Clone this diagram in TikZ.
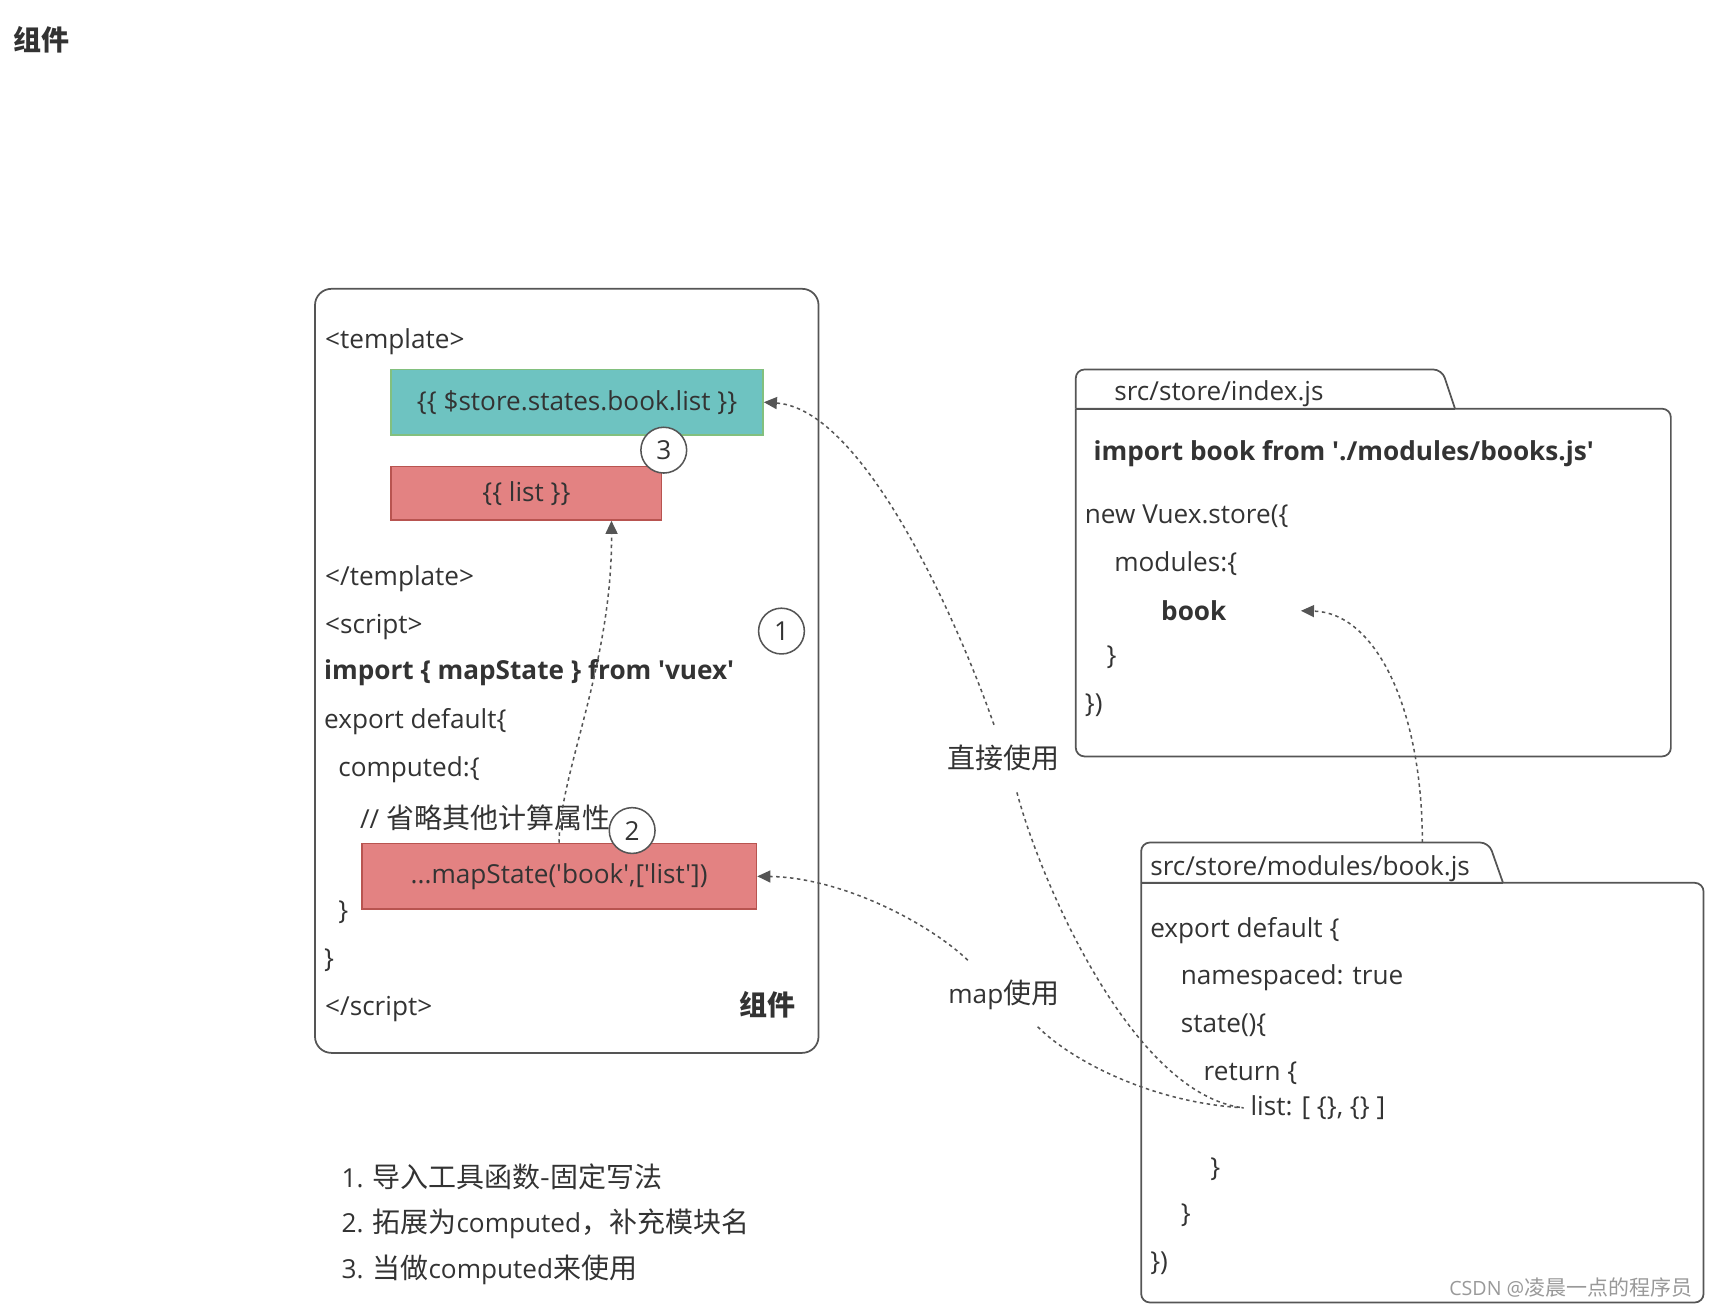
\documentclass[tikz,border=0pt]{standalone}
\usepackage{fontspec}
\setmainfont{Open Sans}[Ligatures=TeXOff]
\newfontfamily\cjk{Noto Sans CJK SC}[Ligatures=TeXOff,Scale=1.07]
\usetikzlibrary{arrows.meta,calc}
\definecolor{txt}{HTML}{333333}
\definecolor{edge}{HTML}{555555}
\definecolor{tealf}{HTML}{6EC3C1}
\definecolor{tealb}{HTML}{82C07E}
\definecolor{redf}{HTML}{E38282}
\definecolor{redb}{HTML}{B85450}
\newcommand\codesize{\fontsize{12}{14}\selectfont}
\tikzset{
  code/.style={anchor=west, inner sep=0pt, text=txt, font=\codesize, yshift=-1.2pt},
  frame/.style={draw=edge, line width=0.8pt},
  tealbox/.style={draw=tealb, fill=tealf, line width=0.8pt, inner sep=0pt, text=txt, font=\codesize},
  redbox/.style={draw=redb, fill=redf, line width=0.8pt, inner sep=0pt, text=txt, font=\codesize},
  circ/.style={circle, draw=edge, fill=white, line width=0.7pt, minimum size=21pt, inner sep=0pt, text=txt, font=\codesize},
  lbl/.style={inner sep=0pt, text=txt, font=\codesize},
  dline/.style={draw=edge, line width=0.7pt, dash pattern=on 1.6pt off 1.6pt},
  conn/.style={dline, -{Triangle[length=6pt,width=5.5pt]}, color=edge},
}
\begin{document}
\begin{tikzpicture}[x=0.5pt,y=-0.5pt]
\useasboundingbox (0,0) rectangle (1568,1200);

% title
\node[code, font=\codesize\cjk\bfseries] (title) at (12,34) {组件};

% component frame
\draw[frame, fill=white, rounded corners=7.5pt] (289,265) rectangle (751,966);

\node[code] (tpl) at (298,311) {<template>};
\node[tealbox, minimum width=170.5pt, minimum height=30pt] (teal) at (529.5,369) {\{\{ \$store.states.book.list \}\}};
\node[redbox, minimum width=124pt, minimum height=24.5pt] (lt) at (483,452.5) {\{\{ list \}\}};
\node[code] (tple) at (298,529) {</template>};
\node[code] (scr) at (298,573) {<script>};
\node[code, font=\codesize\bfseries] (imp) at (297,615) {import \{ mapState \} from 'vuex'};
\node[code] (exp) at (297,660) {export default\{};
\node[code] (cmp) at (310,704) {computed:\{};
\node[code] (cmt) at (330,748) {// {\cjk 省略其他计算属性}};
\node[redbox, minimum width=181pt, minimum height=30pt] (ms) at (513,804) {...mapState('book',['list'])};
\node[code] (cb1) at (310,835) {\}};
\node[code] (cb2) at (297,879) {\}};
\node[code] (scre) at (298,923) {</script>};
\node[code, anchor=east, font=\codesize\cjk\bfseries] (cname) at (730,919) {组件};

\node[circ] (c3) at (609,413) {3};
\node[circ] (c1) at (717,579) {1};
\node[circ] (c2) at (580,762) {2};

% index.js frame
\draw[frame, rounded corners=4pt] (987,375) -- (987,339) -- (1323,339) -- (1335,375);
\draw[frame] (987,375) -- (1335,375);
\draw[frame, rounded corners=4pt] (987,375) -- (1533,375) -- (1533,694) -- (987,694) -- (987,375);
\node[code] (ifile) at (1022,359) {src/store/index.js};
\node[code, font=\codesize\bfseries] (iimp) at (1003,414) {import book from './modules/books.js'};
\node[code] (inew) at (995,471) {new Vuex.store(\{};
\node[code] (imod) at (1022,515) {modules:\{};
\node[code, font=\codesize\bfseries] (bk) at (1065,558) {book};
\node[code] (ic1) at (1015,601) {\}};
\node[code] (ic2) at (995,645) {\})};

% book.js frame
\draw[frame, rounded corners=4pt] (1047,810) -- (1047,773) -- (1366,773) -- (1379,810);
\draw[frame] (1047,810) -- (1379,810);
\draw[frame, rounded corners=4pt] (1047,810) -- (1563,810) -- (1563,1195) -- (1047,1195) -- (1047,810);
\node[code] (bfile) at (1055,795) {src/store/modules/book.js};
\node[code] (bexp) at (1055,851) {export default \{};
\node[code] (bns) at (1083,895) {namespaced: true};
\node[code] (bst) at (1083,938) {state()\{};
\node[code] (bret) at (1104,982) {return \{};
\node[code] (lst) at (1147,1014) {list: [ \{\}, \{\} ]};
\node[code] (bc1) at (1110,1070) {\}};
\node[code] (bc2) at (1083,1113) {\}};
\node[code] (bc3) at (1055,1157) {\})};
\node[anchor=east, inner sep=0pt, text=black!40, font=\fontsize{9}{10}\selectfont] (wm) at (1553,1181) {CSDN @{\cjk 凌晨一点的程序员}};

% labels
\node[lbl] (direct) at (921,695) {\cjk 直接使用};
\node[lbl] (mapuse) at (921,913) {map{\cjk 使用}};

% notes
\node[code] (n1) at (313,1077) {1. {\cjk 导入工具函数-固定写法}};
\node[code] (n2) at (313,1120) {2. {\cjk 拓展为}computed{\cjk ，补充模块名}};
\node[code] (n3) at (313,1163) {3. {\cjk 当做}computed{\cjk 来使用}};

% connector anchors
\coordinate (d1) at (912,665);
\coordinate (d2) at (933,727);
\coordinate (m1) at (888,881);
\coordinate (m2) at (952,942);
\coordinate (lstin) at ($(lst.west)+(-6,0)$);
\coordinate (tabtop) at (1305,773);
\coordinate (bkin) at ($(bk.east)+(68,0)$);
\coordinate (ltin) at ($(lt.south)+(78,0)$);

% connectors
\draw[conn] (d1) .. controls (875,560) and (790,375) .. (teal.east);
\draw[dline] (d2) .. controls (955,810) and (1040,1005) .. (lstin);
\draw[conn] (m1) .. controls (850,845) and (770,805) .. (ms.east);
\draw[dline] (m2) .. controls (985,975) and (1060,1012) .. (lstin);
\draw[conn] (ms.north) .. controls (513,710) and (562,610) .. (ltin);
\draw[conn] (tabtop) .. controls (1305,650) and (1262,562) .. (bkin);
\end{tikzpicture}
\end{document}
